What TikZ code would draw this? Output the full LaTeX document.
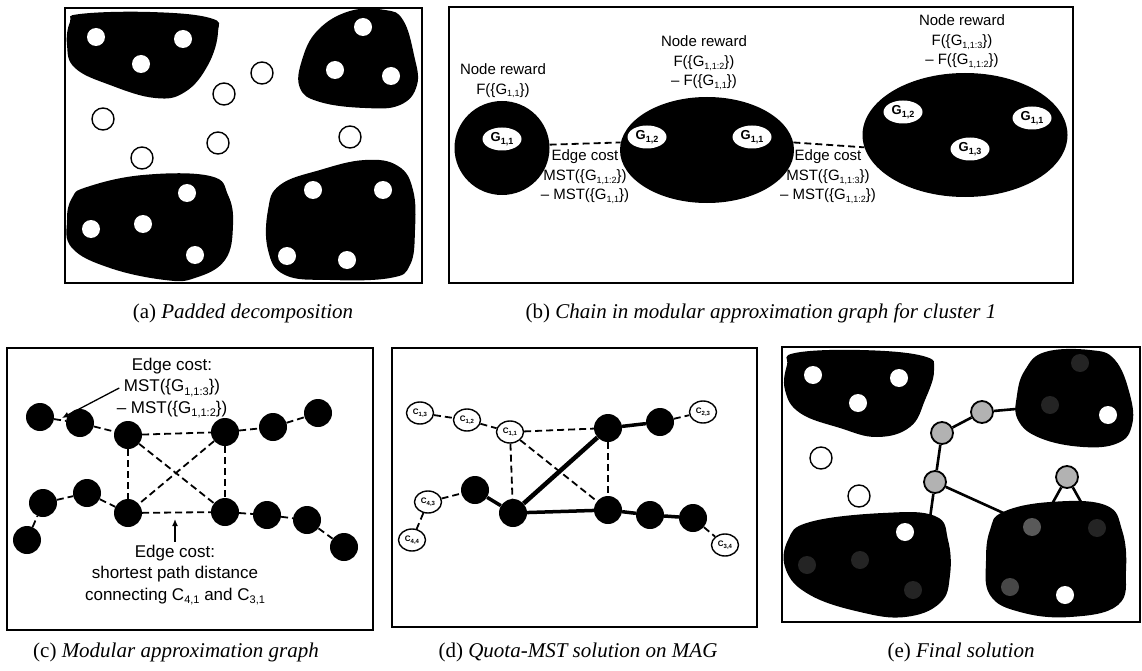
\documentclass[tikz,border=0pt]{standalone}
\usepackage{fontspec}
\setmainfont{Liberation Serif}
\newfontfamily\lsans{Liberation Sans}
\usetikzlibrary{shapes.geometric,arrows.meta}
\newcommand\lo[2][9]{\raisebox{-0.35ex}{\fontsize{#1}{#1}\selectfont #2}}
\newcommand\ob{\{}
\newcommand\cb{\}}
\begin{document}
\begin{tikzpicture}[x=1pt,y=-1pt,font=\lsans,
  panel/.style={draw,line width=1.5pt},
  capt/.style={font=\rmfamily\fontsize{21}{25}\selectfont},
  blob/.style={fill=black},
  wdot/.style={circle,fill=white,inner sep=0pt,minimum size=18pt},
  ddot/.style={circle,fill=black!86,inner sep=0pt,minimum size=18pt},
  hole/.style={circle,draw,fill=white,line width=1.4pt,inner sep=0pt,minimum size=22pt},
  bn/.style={circle,fill=black,inner sep=0pt,minimum size=28pt},
  cn/.style={ellipse,draw,fill=white,line width=1.4pt,inner sep=0pt,minimum width=27pt,minimum height=22pt,font=\lsans\bfseries\fontsize{8}{8}\selectfont},
  gn/.style={circle,draw,fill=black!30,line width=1.8pt,inner sep=0pt,minimum size=22pt},
  gl/.style={ellipse,fill=white,inner sep=0pt,minimum width=39pt,minimum height=23pt,font=\lsans\bfseries\fontsize{13}{13}\selectfont},
  dsh/.style={line width=1.8pt,dash pattern=on 7pt off 4pt},
  thk/.style={line width=3.5pt},
  sol/.style={line width=2.6pt},
  txtb/.style={font=\lsans\fontsize{15}{19.5}\selectfont,align=center},
  txtc/.style={font=\lsans\fontsize{17}{21.5}\selectfont,align=center}]
\path[use as bounding box] (0,0) rectangle (1142,671);
\fill[white] (0,0) rectangle (1142,671);

%% ---------------- panel (a)
\draw[panel] (65,8) rectangle (422,283);
\fill[blob] plot[smooth cycle,tension=0.7] coordinates {(80,14) (150,12) (210,18) (218,32) (208,65) (185,92) (155,98) (110,85) (75,68) (67,45) (70,22)};
\fill[blob] plot[smooth cycle,tension=0.7] coordinates {(350,11) (385,10) (403,20) (414,55) (417,85) (400,105) (365,108) (320,102) (300,88) (302,60) (318,30)};
\fill[blob] plot[smooth cycle,tension=0.7] coordinates {(87,187) (143,175) (210,176) (228,195) (233,225) (225,260) (195,278) (165,280) (110,268) (72,248) (67,220) (72,198)};
\fill[blob] plot[smooth cycle,tension=0.7] coordinates {(280,185) (320,170) (365,160) (398,166) (413,190) (415,230) (410,265) (390,278) (330,280) (285,275) (268,250) (268,210)};
\node[wdot] (a1) at (96,37) {};
\node[wdot] (a2) at (183,39) {};
\node[wdot] (a3) at (141,64) {};
\node[wdot] (a4) at (363,27) {};
\node[wdot] (a5) at (335,70) {};
\node[wdot] (a6) at (391,76) {};
\node[wdot] (a7) at (91,229) {};
\node[wdot] (a8) at (143,224) {};
\node[wdot] (a9) at (187,193) {};
\node[wdot] (a10) at (195,255) {};
\node[wdot] (a11) at (313,190) {};
\node[wdot] (a12) at (383,190) {};
\node[wdot] (a13) at (287,256) {};
\node[wdot] (a14) at (347,260) {};
\node[hole] (ah1) at (103,119) {};
\node[hole] (ah2) at (142,158) {};
\node[hole] (ah3) at (224,94) {};
\node[hole] (ah4) at (218,143) {};
\node[hole] (ah5) at (262,73) {};
\node[hole] (ah6) at (350,137) {};
\node[capt] (capa) at (243,313) {(a) \textit{Padded decomposition}};

%% ---------------- panel (b)
\draw[panel] (449,7) rectangle (1073,283);
\node[ellipse,fill=black,minimum width=95pt,minimum height=94pt,inner sep=0pt] (bL) at (502,148) {};
\node[ellipse,fill=black,minimum width=174pt,minimum height=106pt,inner sep=0pt] (bM) at (707,150) {};
\node[ellipse,fill=black,minimum width=205pt,minimum height=124pt,inner sep=0pt] (bR) at (965,135) {};
\node[gl] (g1) at (502,139) {G\lo{1,1}};
\node[gl] (g2) at (647,137) {G\lo{1,2}};
\node[gl] (g3) at (752,137) {G\lo{1,1}};
\node[gl] (g4) at (903,112) {G\lo{1,2}};
\node[gl] (g5) at (1032,118) {G\lo{1,1}};
\node[gl] (g6) at (970,149) {G\lo{1,3}};
\draw[dsh] (bL.4) -- (bM.175);
\draw[dsh] (bM.5) -- (bR.187);
\node[txtb] (nr1) at (503,81) {Node reward\\F(\ob G\lo{1,1}\cb)};
\node[txtb] (nr2) at (704,63) {Node reward\\F(\ob G\lo{1,1:2}\cb)\\– F(\ob G\lo{1,1}\cb)};
\node[txtb] (nr3) at (962,42) {Node reward\\F(\ob G\lo{1,1:3}\cb)\\– F(\ob G\lo{1,1:2}\cb)};
\node[txtb] (ec1) at (585,177) {Edge cost\\MST(\ob G\lo{1,1:2}\cb)\\– MST(\ob G\lo{1,1}\cb)};
\node[txtb] (ec2) at (828,177) {Edge cost\\MST(\ob G\lo{1,1:3}\cb)\\– MST(\ob G\lo{1,1:2}\cb)};
\node[capt] (capb) at (761,313) {(b) \textit{Chain in modular approximation graph for cluster 1}};

%% ---------------- panel (c)
\draw[panel] (7,348) rectangle (373,630);
\node[bn] (c1) at (40,417) {};
\node[bn] (c2) at (80,423) {};
\node[bn] (c3) at (128,435) {};
\node[bn] (c4) at (225,432) {};
\node[bn] (c5) at (273,427) {};
\node[bn] (c6) at (318,413) {};
\node[bn] (c7) at (27,540) {};
\node[bn] (c8) at (43,503) {};
\node[bn] (c9) at (87,493) {};
\node[bn] (c10) at (128,513) {};
\node[bn] (c11) at (225,512) {};
\node[bn] (c12) at (267,515) {};
\node[bn] (c13) at (307,520) {};
\node[bn] (c14) at (344,547) {};
\draw[dsh] (c1) -- (c2);
\draw[dsh] (c2) -- (c3);
\draw[dsh] (c3) -- (c4);
\draw[dsh] (c4) -- (c5);
\draw[dsh] (c5) -- (c6);
\draw[dsh] (c7) -- (c8);
\draw[dsh] (c8) -- (c9);
\draw[dsh] (c9) -- (c10);
\draw[dsh] (c10) -- (c11);
\draw[dsh] (c11) -- (c12);
\draw[dsh] (c12) -- (c13);
\draw[dsh] (c13) -- (c14);
\draw[dsh] (c3) -- (c10);
\draw[dsh] (c4) -- (c11);
\draw[dsh] (c3) -- (c11);
\draw[dsh] (c4) -- (c10);
\node[txtc] (ct1) at (172,388) {Edge cost:\\MST(\ob G\lo[11]{1,1:3}\cb)\\– MST(\ob G\lo[11]{1,1:2}\cb)};
\node[txtc] (ct2) at (175,575) {Edge cost:\\shortest path distance\\connecting C\lo[11]{4,1} and C\lo[11]{3,1}};
\coordinate (ca) at (62,418);
\coordinate (cb) at (175,519);
\draw[line width=1.3pt,-{Latex[length=7pt,width=6pt]}] (ct1.west) ++(6,0) -- (ca);
\draw[line width=1.3pt,-{Latex[length=7pt,width=6pt]}] (ct2.north) -- (cb);
\node[capt] (capc) at (176,652) {(c) \textit{Modular approximation graph}};

%% ---------------- panel (d)
\draw[panel] (392,348) rectangle (757,627);
\node[bn] (b1) at (608,428) {};
\node[bn] (b2) at (660,422) {};
\node[bn] (b3) at (475,490) {};
\node[bn] (b4) at (513,513) {};
\node[bn] (b5) at (608,510) {};
\node[bn] (b6) at (650,515) {};
\node[bn] (b7) at (693,518) {};
\node[cn] (d13) at (420,413) {C\lo[6]{1,3}};
\node[cn] (d12) at (467,420) {C\lo[6]{1,2}};
\node[cn] (d11) at (510,432) {C\lo[6]{1,1}};
\node[cn] (d23) at (703,412) {C\lo[6]{2,3}};
\node[cn] (d43) at (428,502) {C\lo[6]{4,3}};
\node[cn] (d44) at (412,540) {C\lo[6]{4,4}};
\node[cn] (d34) at (725,545) {C\lo[6]{3,4}};
\draw[dsh] (d13) -- (d12);
\draw[dsh] (d12) -- (d11);
\draw[dsh] (d11) -- (b1);
\draw[dsh] (d11) -- (b4);
\draw[dsh] (d11) -- (b5);
\draw[dsh] (b1) -- (b5);
\draw[dsh] (b2) -- (d23);
\draw[dsh] (b7) -- (d34);
\draw[dsh] (d43) -- (b3);
\draw[dsh] (d43) -- (d44);
\draw[line width=4.5pt] (b4) -- (b1);
\draw[thk] (b4) -- (b5);
\draw[thk] (b1) -- (b2);
\draw[thk] (b3) -- (b4);
\draw[thk] (b5) -- (b6);
\draw[thk] (b6) -- (b7);
\node[capt] (capd) at (578,652) {(d) \textit{Quota-MST solution on MAG}};

%% ---------------- panel (e)
\draw[panel] (782,347) rectangle (1140,622);
\fill[blob] plot[smooth cycle,tension=0.7] coordinates {(795,353) (860,350) (923,356) (934,370) (925,400) (910,427) (877,437) (840,428) (800,413) (785,390) (787,365)};
\fill[blob] plot[smooth cycle,tension=0.7] coordinates {(1045,352) (1090,350) (1115,360) (1130,395) (1132,425) (1118,443) (1083,447) (1040,438) (1018,420) (1017,395) (1025,370)};
\fill[blob] plot[smooth cycle,tension=0.7] coordinates {(810,522) (883,513) (935,516) (948,540) (950,575) (940,603) (905,617) (860,612) (810,595) (786,570) (788,540)};
\fill[blob] plot[smooth cycle,tension=0.7] coordinates {(1003,512) (1050,502) (1105,505) (1122,530) (1126,570) (1118,605) (1070,617) (1020,612) (990,595) (986,560) (990,530)};
\node[wdot] (e1) at (813,375) {};
\node[wdot] (e2) at (899,378) {};
\node[wdot] (e3) at (858,403) {};
\node[wdot] (e4) at (1108,415) {};
\node[ddot] (e5) at (1080,363) {};
\node[ddot] (e6) at (1050,405) {};
\node[wdot] (e7) at (905,532) {};
\node[ddot] (e8) at (807,565) {};
\node[ddot] (e9) at (860,560) {};
\node[ddot] (e10) at (913,590) {};
\node[wdot] (e11) at (1065,595) {};
\node[ddot,fill=black!65] (e12) at (1032,527) {};
\node[ddot] (e13) at (1097,528) {};
\node[ddot,fill=black!72] (e14) at (1010,587) {};
\node[hole] (eh1) at (821,458) {};
\node[hole] (eh2) at (859,496) {};
\coordinate (tr) at (1016,409);
\coordinate (bl) at (930,518);
\coordinate (br1) at (1010,516);
\coordinate (br2) at (1052,504);
\coordinate (br3) at (1081,502);
\node[gn] (s1) at (982,412) {};
\node[gn] (s2) at (942,433) {};
\node[gn] (s3) at (935,482) {};
\node[gn] (s4) at (1067,477) {};
\draw[sol] (s1) -- (tr);
\draw[sol] (s1) -- (s2);
\draw[sol] (s2) -- (s3);
\draw[sol] (s3) -- (bl);
\draw[sol] (s3) -- (br1);
\draw[sol] (s4) -- (br2);
\draw[sol] (s4) -- (br3);
\node[capt] (cape) at (961,652) {(e) \textit{Final solution}};
\end{tikzpicture}
\end{document}
